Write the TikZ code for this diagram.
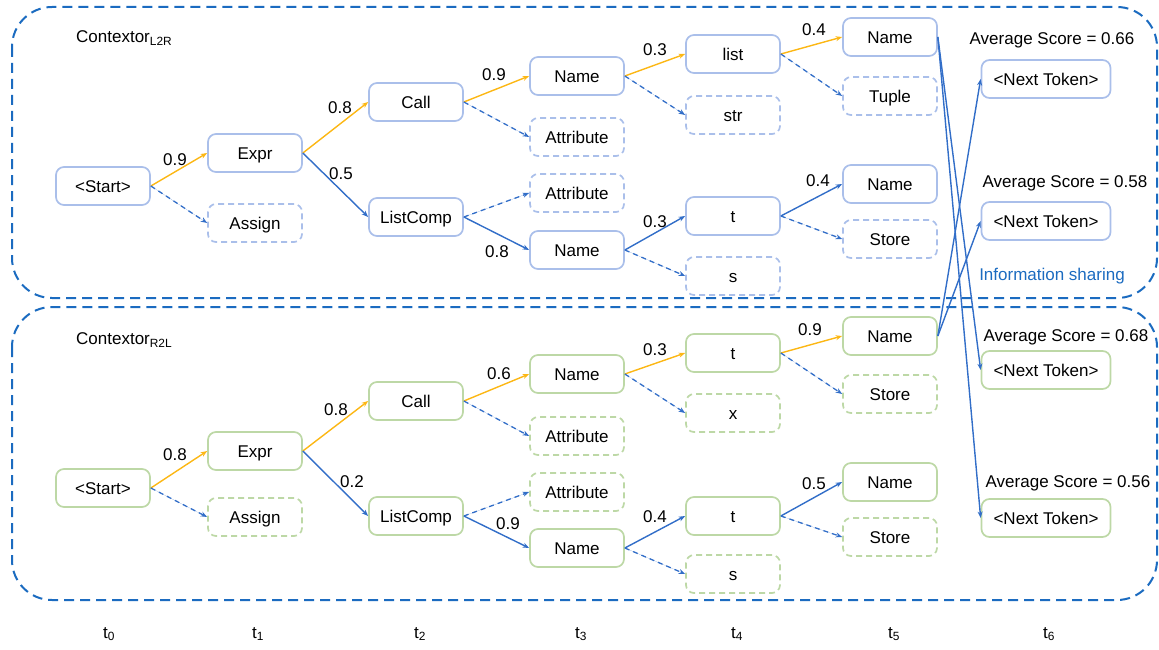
\documentclass[tikz,border=0pt]{standalone}
\usepackage{fontspec}
\setmainfont{Liberation Sans}
\usetikzlibrary{arrows.meta}
\definecolor{cOrange}{HTML}{FCB714}
\definecolor{cArrow}{HTML}{326EC8}
\definecolor{cOuter}{HTML}{1B6BC0}
\definecolor{cBoxBlue}{HTML}{AABFEA}
\definecolor{cBoxGreen}{HTML}{BDD8A6}
\newcommand\myfs{\fontsize{17}{20}\selectfont}
\tikzset{
  box/.style={draw, line width=1.7pt, rounded corners=8pt, minimum width=94pt,
    minimum height=38pt, inner sep=0pt, font=\myfs, text height=12.2pt, text depth=0pt},
  tb/.style={box, draw=cBoxBlue},
  gb/.style={box, draw=cBoxGreen},
  dbox/.style={dash pattern=on 6pt off 4pt},
  ntb/.style={minimum width=129pt},
  tip/.style={-{Stealth[length=6.5pt,width=5pt]}},
  best/.style={tip, draw=cOrange, fill=cOrange, line width=1.4pt},
  alt/.style={tip, draw=cArrow, fill=cArrow, line width=1.4pt},
  rej/.style={tip, draw=cArrow, fill=cArrow, line width=1.3pt, dash pattern=on 5pt off 4pt},
  lbl/.style={font=\myfs, inner sep=0pt},
  outer/.style={draw=cOuter, line width=2pt, dash pattern=on 10pt off 6pt, rounded corners=40pt},
}
\begin{document}
\begin{tikzpicture}[x=1pt,y=-1pt]
\useasboundingbox (0,0) rectangle (1159,650);
% outer panels
\draw[outer] (12,7) rectangle (1157,298);
\draw[outer] (12,307) rectangle (1157,600);
\node[lbl, anchor=west] (titleA) at (76,38) {Contextor\textsubscript{L2R}};
\node[lbl, anchor=west] (titleB) at (76,340) {Contextor\textsubscript{R2L}};

% ---------- top panel ----------
\node[tb] (aS) at (103,186) {<Start>};
\node[tb] (aE) at (255,153) {Expr};
\node[tb,dbox] (aAs) at (255,223) {Assign};
\node[tb] (aC) at (416,102) {Call};
\node[tb] (aLC) at (416,217) {ListComp};
\node[tb] (aN1) at (577,76) {Name};
\node[tb,dbox] (aAt1) at (577,137) {Attribute};
\node[tb,dbox] (aAt2) at (577,193) {Attribute};
\node[tb] (aN2) at (577,250) {Name};
\node[tb] (aList) at (733,54) {list};
\node[tb,dbox] (aStr) at (733,115) {str};
\node[tb] (aT) at (733,216) {t};
\node[tb,dbox] (aS2) at (733,276) {s};
\node[tb] (aN5a) at (890,37) {Name};
\node[tb,dbox] (aTup) at (890,96) {Tuple};
\node[tb] (aN5b) at (890,184) {Name};
\node[tb,dbox] (aSt) at (890,239) {Store};
\node[lbl] (avg1) at (1052,40) {Average Score = 0.66};
\node[tb,ntb] (nt1) at (1046,79) {<Next Token>};
\node[lbl] (avg2) at (1065,183) {Average Score = 0.58};
\node[tb,ntb] (nt2) at (1046,221) {<Next Token>};
\node[lbl, text=cOuter] (info) at (1052,276) {Information sharing};

\draw[best] (aS.east) -- (aE.west);
\draw[rej] (aS.east) -- (aAs.west);
\draw[best] (aE.east) -- (aC.west);
\draw[alt] (aE.east) -- (aLC.west);
\draw[best] (aC.east) -- (aN1.west);
\draw[rej] (aC.east) -- (aAt1.west);
\draw[rej] (aLC.east) -- (aAt2.west);
\draw[alt] (aLC.east) -- (aN2.west);
\draw[best] (aN1.east) -- (aList.west);
\draw[rej] (aN1.east) -- (aStr.west);
\draw[alt] (aN2.east) -- (aT.west);
\draw[rej] (aN2.east) -- (aS2.west);
\draw[best] (aList.east) -- (aN5a.west);
\draw[rej] (aList.east) -- (aTup.west);
\draw[alt] (aT.east) -- (aN5b.west);
\draw[rej] (aT.east) -- (aSt.west);

\node[lbl] (la1) at (175,160) {0.9};
\node[lbl] (la2) at (340,108) {0.8};
\node[lbl] (la3) at (341,174) {0.5};
\node[lbl] (la4) at (494,75) {0.9};
\node[lbl] (la5) at (497,252) {0.8};
\node[lbl] (la6) at (655,50) {0.3};
\node[lbl] (la7) at (655,222) {0.3};
\node[lbl] (la8) at (814,30) {0.4};
\node[lbl] (la9) at (818,181) {0.4};

% ---------- bottom panel ----------
\node[gb] (bS) at (103,488) {<Start>};
\node[gb] (bE) at (255,451) {Expr};
\node[gb,dbox] (bAs) at (255,517) {Assign};
\node[gb] (bC) at (416,401) {Call};
\node[gb] (bLC) at (416,516) {ListComp};
\node[gb] (bN1) at (577,374) {Name};
\node[gb,dbox] (bAt1) at (577,436) {Attribute};
\node[gb,dbox] (bAt2) at (577,492) {Attribute};
\node[gb] (bN2) at (577,548) {Name};
\node[gb] (bT1) at (733,353) {t};
\node[gb,dbox] (bX) at (733,413) {x};
\node[gb] (bT2) at (733,516) {t};
\node[gb,dbox] (bS2) at (733,574) {s};
\node[gb] (bN5a) at (890,336) {Name};
\node[gb,dbox] (bSt1) at (890,394) {Store};
\node[gb] (bN5b) at (890,482) {Name};
\node[gb,dbox] (bSt2) at (890,537) {Store};
\node[lbl] (avg3) at (1066,337) {Average Score = 0.68};
\node[gb,ntb] (nt3) at (1046,370) {<Next Token>};
\node[lbl] (avg4) at (1068,483) {Average Score = 0.56};
\node[gb,ntb] (nt4) at (1046,518) {<Next Token>};

\draw[best] (bS.east) -- (bE.west);
\draw[rej] (bS.east) -- (bAs.west);
\draw[best] (bE.east) -- (bC.west);
\draw[alt] (bE.east) -- (bLC.west);
\draw[best] (bC.east) -- (bN1.west);
\draw[rej] (bC.east) -- (bAt1.west);
\draw[rej] (bLC.east) -- (bAt2.west);
\draw[alt] (bLC.east) -- (bN2.west);
\draw[best] (bN1.east) -- (bT1.west);
\draw[rej] (bN1.east) -- (bX.west);
\draw[alt] (bN2.east) -- (bT2.west);
\draw[rej] (bN2.east) -- (bS2.west);
\draw[best] (bT1.east) -- (bN5a.west);
\draw[rej] (bT1.east) -- (bSt1.west);
\draw[alt] (bT2.east) -- (bN5b.west);
\draw[rej] (bT2.east) -- (bSt2.west);

\node[lbl] (lb1) at (175,455) {0.8};
\node[lbl] (lb2) at (336,410) {0.8};
\node[lbl] (lb3) at (352,482) {0.2};
\node[lbl] (lb4) at (499,374) {0.6};
\node[lbl] (lb5) at (508,524) {0.9};
\node[lbl] (lb6) at (655,350) {0.3};
\node[lbl] (lb7) at (655,517) {0.4};
\node[lbl] (lb8) at (810,330) {0.9};
\node[lbl] (lb9) at (814,484) {0.5};

% ---------- information sharing ----------
\draw[alt] (aN5a.east) -- (nt3.west);
\draw[alt] (aN5a.east) -- (nt4.west);
\draw[alt] (bN5a.east) -- (nt1.west);
\draw[alt] (bN5a.east) -- (nt2.west);

% ---------- time steps ----------
\node[lbl] (t0) at (109,634) {t\textsubscript{0}};
\node[lbl] (t1) at (258,634) {t\textsubscript{1}};
\node[lbl] (t2) at (420,634) {t\textsubscript{2}};
\node[lbl] (t3) at (581,634) {t\textsubscript{3}};
\node[lbl] (t4) at (737,634) {t\textsubscript{4}};
\node[lbl] (t5) at (894,634) {t\textsubscript{5}};
\node[lbl] (t6) at (1049,634) {t\textsubscript{6}};
\end{tikzpicture}
\end{document}
